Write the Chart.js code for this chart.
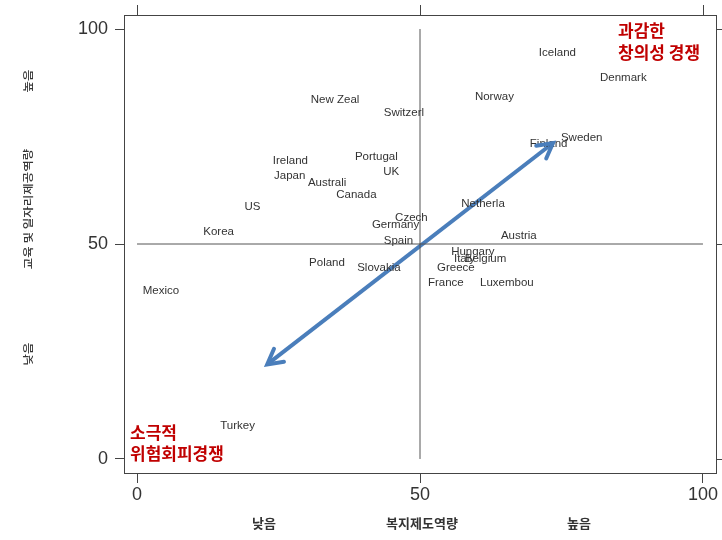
<!DOCTYPE html>
<html>
<head>
<meta charset="utf-8">
<script src="https://cdn.jsdelivr.net/npm/chart.js@4.4.1/dist/chart.umd.min.js"></script>
<style>
  body { margin: 0; background: #fff; }
  canvas { display: block; }
</style>
</head>
<body>
<canvas id="welfareChart" width="722" height="540"></canvas>
<script>
// countries and their scores (welfare capacity, education & job capacity)
const countries = ['Iceland', 'Denmark', 'Norway', 'New Zeal', 'Switzerl', 'Finland', 'Sweden',
    'Ireland', 'Portugal', 'UK', 'Japan', 'Australi', 'Canada', 'US', 'Netherla', 'Czech',
    'Germany', 'Korea', 'Spain', 'Austria', 'Hungary', 'Italy', 'Belgium', 'Poland',
    'Slovakia', 'Greece', 'France', 'Luxembou', 'Mexico', 'Turkey'];
const welfareScore = [71.0, 81.8, 59.7, 30.7, 43.6, 69.4, 74.9,
    24.0, 38.5, 43.5, 24.2, 30.2, 35.2, 19.0, 57.3, 45.6,
    41.5, 11.7, 43.6, 64.3, 55.5, 56.0, 57.9, 30.4,
    38.9, 53.0, 51.4, 60.6, 1.0, 14.7];
const eduJobScore = [94.5, 88.6, 84.2, 83.5, 80.5, 73.3, 74.7,
    69.3, 70.2, 66.7, 65.8, 64.2, 61.4, 58.6, 59.3, 56.0,
    54.4, 52.8, 50.7, 51.9, 48.1, 46.5, 46.5, 45.6,
    44.4, 44.4, 40.9, 40.9, 39.1, 7.7];
const xTicks = [0, 50, 100];
const yTicks = [0, 50, 100];
const arrowFrom = [23, 22];
const arrowTo = [73.5, 73.5];

const points = countries.map((c, i) => ({ x: welfareScore[i], y: eduJobScore[i], label: c }));

const labelPlugin = {
    id: 'labels',
    afterDatasetsDraw(chart) {
        const c = chart.ctx;
        const xs = chart.scales.x, ys = chart.scales.y;
        const a = chart.chartArea;
        c.save();
        // country labels
        c.font = '11.5px "Liberation Sans", Arial, sans-serif';
        c.fillStyle = '#333';
        c.textAlign = 'left';
        c.textBaseline = 'middle';
        points.forEach(p => c.fillText(p.label, xs.getPixelForValue(p.x), ys.getPixelForValue(p.y)));

        // arrow heads
        const ax0 = xs.getPixelForValue(arrowFrom[0]), ay0 = ys.getPixelForValue(arrowFrom[1]);
        const ax1 = xs.getPixelForValue(arrowTo[0]), ay1 = ys.getPixelForValue(arrowTo[1]);
        c.strokeStyle = '#4a7ebb';
        c.lineWidth = 4;
        c.lineCap = 'round';
        const head = (x, y, ang) => {
            c.beginPath();
            c.moveTo(x + 17 * Math.cos(ang + 0.5), y + 17 * Math.sin(ang + 0.5));
            c.lineTo(x, y);
            c.lineTo(x + 17 * Math.cos(ang - 0.5), y + 17 * Math.sin(ang - 0.5));
            c.stroke();
        };
        head(ax1, ay1, Math.atan2(ay0 - ay1, ax0 - ax1));
        head(ax0, ay0, Math.atan2(ay1 - ay0, ax1 - ax0));

        // quadrant notes
        c.font = 'bold 17px "Noto Sans CJK KR", sans-serif';
        c.fillStyle = '#c00000';
        c.fillText('과감한', 618, 31);
        c.fillText('창의성 경쟁', 618, 53);
        c.fillText('소극적', 130, 433);
        c.fillText('위험회피경쟁', 130, 454);

        // frame + mirrored ticks on top and right
        c.strokeStyle = '#444';
        c.lineWidth = 1;
        c.lineCap = 'butt';
        c.strokeRect(a.left + 0.5, a.top + 0.5, a.right - a.left, a.bottom - a.top);
        c.beginPath();
        xTicks.forEach(v => {
            const px = Math.round(xs.getPixelForValue(v)) + 0.5;
            c.moveTo(px, a.top - 10);
            c.lineTo(px, a.top);
        });
        yTicks.forEach(v => {
            const py = Math.round(ys.getPixelForValue(v)) + 0.5;
            c.moveTo(a.right, py);
            c.lineTo(a.right + 8, py);
        });
        c.stroke();

        // axis captions
        c.font = 'bold 13px "Noto Sans CJK KR", sans-serif';
        c.fillStyle = '#333';
        c.textAlign = 'center';
        c.fillText('낮음', 264, 523);
        c.fillText('복지제도역량', 422, 523);
        c.fillText('높음', 579, 523);
        c.font = '500 12.5px "Noto Sans CJK KR", sans-serif';
        c.fillStyle = '#333';
        const vText = (t, y) => {
            c.save();
            c.translate(28, y);
            c.rotate(-Math.PI / 2);
            c.scale(1, 0.85);
            c.fillText(t, 0, 0);
            c.restore();
        };
        vText('높음', 81);
        vText('교육 및 일자리제공역량', 209);
        vText('낮음', 354);
        c.restore();
    }
};

const ctx = document.getElementById('welfareChart').getContext('2d');
const welfareChart = new Chart(ctx, {
    type: 'scatter',
    data: {
        datasets: [{
            data: points,
            pointRadius: 0,
            pointHoverRadius: 0
        }, {
            type: 'line',
            data: [{ x: 50, y: 0 }, { x: 50, y: 100 }],
            borderColor: '#555',
            borderWidth: 1,
            pointRadius: 0
        }, {
            type: 'line',
            data: [{ x: 0, y: 50 }, { x: 100, y: 50 }],
            borderColor: '#555',
            borderWidth: 1,
            pointRadius: 0
        }, {
            type: 'line',
            data: [{ x: arrowFrom[0], y: arrowFrom[1] }, { x: arrowTo[0], y: arrowTo[1] }],
            borderColor: '#4a7ebb',
            borderWidth: 4,
            pointRadius: 0
        }]
    },
    options: {
        responsive: false,
        animation: false,
        events: [],
        layout: { padding: { left: 0, right: 6, top: 15, bottom: 0 } },
        plugins: { legend: { display: false }, tooltip: { enabled: false } },
        scales: {
            x: {
                type: 'linear',
                min: -2.3,
                max: 102.3,
                afterBuildTicks: axis => { axis.ticks = xTicks.map(v => ({ value: v })); },
                afterFit: axis => {
                    axis.height = 67;
                    axis.paddingLeft = 0;
                    axis.paddingRight = 0;
                },
                grid: { drawOnChartArea: false, drawTicks: true, tickLength: 10, color: '#444' },
                border: { display: false },
                ticks: {
                    padding: 1,
                    color: '#333',
                    font: { family: '"Liberation Sans", Arial, sans-serif', size: 18 }
                }
            },
            y: {
                type: 'linear',
                min: -3.26,
                max: 103.26,
                afterBuildTicks: axis => { axis.ticks = yTicks.map(v => ({ value: v })); },
                afterFit: axis => {
                    axis.width = 124;
                    axis.paddingTop = 0;
                    axis.paddingBottom = 0;
                },
                grid: { drawOnChartArea: false, drawTicks: true, tickLength: 9, color: '#444' },
                border: { display: false },
                ticks: {
                    padding: 7,
                    color: '#333',
                    font: { family: '"Liberation Sans", Arial, sans-serif', size: 18 }
                }
            }
        }
    },
    plugins: [labelPlugin]
});
</script>
</body>
</html>
